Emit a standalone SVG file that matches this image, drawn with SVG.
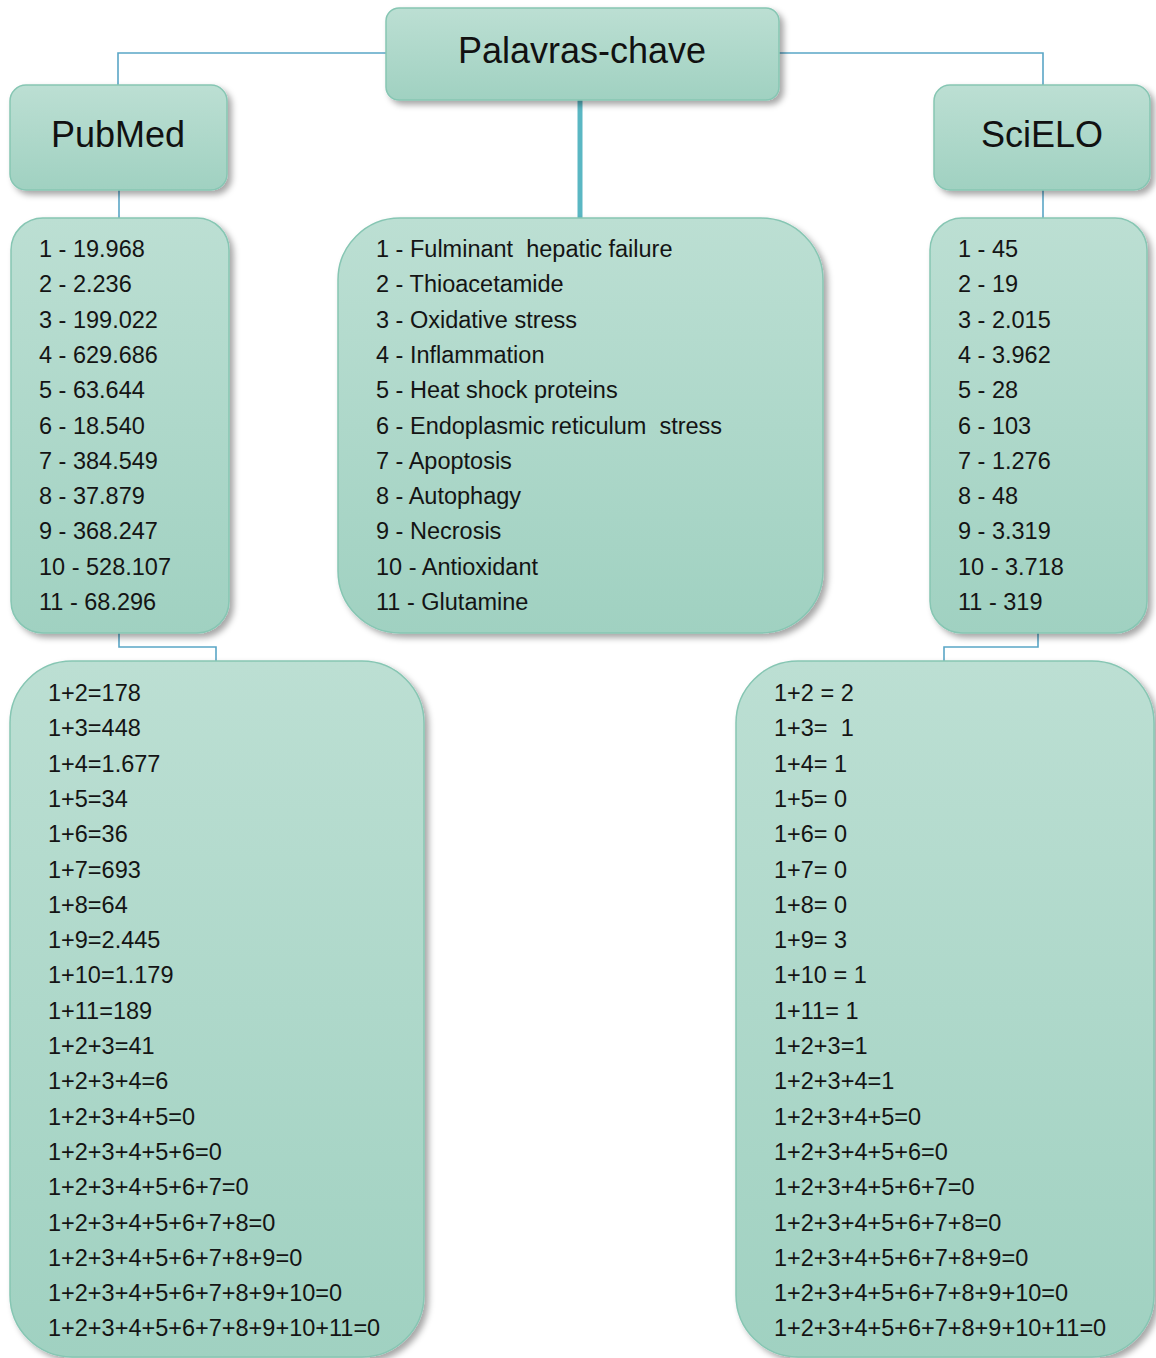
<svg xmlns="http://www.w3.org/2000/svg" width="1156" height="1358" viewBox="0 0 1156 1358">
<defs>
<linearGradient id="g" x1="0" y1="0" x2="0" y2="1">
<stop offset="0" stop-color="#bcdfd3"/>
<stop offset="1" stop-color="#a0d1c1"/>
</linearGradient>
<filter id="sh" x="-10%" y="-10%" width="125%" height="125%">
<feDropShadow dx="4" dy="4" stdDeviation="3" flood-color="#000" flood-opacity="0.35"/>
</filter>
<style>
.box{fill:url(#g);stroke:#86c6b3;stroke-width:1.5;filter:url(#sh)}
.t{font-family:"Liberation Sans",Arial,sans-serif;font-size:23.5px;fill:#141414;white-space:pre}
.h{font-family:"Liberation Sans",Arial,sans-serif;font-size:36px;fill:#111;text-anchor:middle}
.c{fill:none;stroke:#5aa6c6;stroke-width:1.6}
</style>
</defs>
<g id="connectors">
<polyline class="c" points="386,53 118,53 118,86"/>
<polyline class="c" points="779,53 1043,53 1043,86"/>
<line class="c" x1="119" y1="190" x2="119" y2="219"/>
<line class="c" x1="1043" y1="190" x2="1043" y2="219"/>
<line x1="580" y1="100" x2="580" y2="219" stroke="#5ab7c3" stroke-width="5"/>
<polyline class="c" points="119,632 119,647 216,647 216,662"/>
<polyline class="c" points="1038,632 1038,647 944,647 944,662"/>
</g>
<g id="palavras">
<rect class="box" x="386" y="8" width="393" height="92" rx="13"/>
<text class="h" x="582" y="63">Palavras-chave</text>
</g>
<g id="pubmed">
<rect class="box" x="10" y="85" width="217" height="105" rx="16"/>
<text class="h" x="118" y="147">PubMed</text>
</g>
<g id="scielo">
<rect class="box" x="934" y="85" width="216" height="105" rx="16"/>
<text class="h" x="1042" y="147">SciELO</text>
</g>
<g id="pubmed-list">
<rect class="box" x="11" y="218" width="218" height="415" rx="32"/>
<text class="t" x="39" y="257">1 - 19.968</text>
<text class="t" x="39" y="292.3">2 - 2.236</text>
<text class="t" x="39" y="327.6">3 - 199.022</text>
<text class="t" x="39" y="362.9">4 - 629.686</text>
<text class="t" x="39" y="398.2">5 - 63.644</text>
<text class="t" x="39" y="433.5">6 - 18.540</text>
<text class="t" x="39" y="468.8">7 - 384.549</text>
<text class="t" x="39" y="504.1">8 - 37.879</text>
<text class="t" x="39" y="539.4">9 - 368.247</text>
<text class="t" x="39" y="574.7">10 - 528.107</text>
<text class="t" x="39" y="610">11 - 68.296</text>
</g>
<g id="keywords">
<rect class="box" x="338" y="218" width="485" height="415" rx="62"/>
<text class="t" x="376" y="257">1 - Fulminant  hepatic failure</text>
<text class="t" x="376" y="292.3">2 - Thioacetamide</text>
<text class="t" x="376" y="327.6">3 - Oxidative stress</text>
<text class="t" x="376" y="362.9">4 - Inflammation</text>
<text class="t" x="376" y="398.2">5 - Heat shock proteins</text>
<text class="t" x="376" y="433.5">6 - Endoplasmic reticulum  stress</text>
<text class="t" x="376" y="468.8">7 - Apoptosis</text>
<text class="t" x="376" y="504.1">8 - Autophagy</text>
<text class="t" x="376" y="539.4">9 - Necrosis</text>
<text class="t" x="376" y="574.7">10 - Antioxidant</text>
<text class="t" x="376" y="610">11 - Glutamine</text>
</g>
<g id="scielo-list">
<rect class="box" x="930" y="218" width="217" height="415" rx="32"/>
<text class="t" x="958" y="257">1 - 45</text>
<text class="t" x="958" y="292.3">2 - 19</text>
<text class="t" x="958" y="327.6">3 - 2.015</text>
<text class="t" x="958" y="362.9">4 - 3.962</text>
<text class="t" x="958" y="398.2">5 - 28</text>
<text class="t" x="958" y="433.5">6 - 103</text>
<text class="t" x="958" y="468.8">7 - 1.276</text>
<text class="t" x="958" y="504.1">8 - 48</text>
<text class="t" x="958" y="539.4">9 - 3.319</text>
<text class="t" x="958" y="574.7">10 - 3.718</text>
<text class="t" x="958" y="610">11 - 319</text>
</g>
<g id="pubmed-combos">
<rect class="box" x="10" y="661" width="414" height="696" rx="62"/>
<text class="t" x="48" y="701">1+2=178</text>
<text class="t" x="48" y="736.3">1+3=448</text>
<text class="t" x="48" y="771.6">1+4=1.677</text>
<text class="t" x="48" y="806.9">1+5=34</text>
<text class="t" x="48" y="842.2">1+6=36</text>
<text class="t" x="48" y="877.5">1+7=693</text>
<text class="t" x="48" y="912.8">1+8=64</text>
<text class="t" x="48" y="948.1">1+9=2.445</text>
<text class="t" x="48" y="983.4">1+10=1.179</text>
<text class="t" x="48" y="1018.7">1+11=189</text>
<text class="t" x="48" y="1054">1+2+3=41</text>
<text class="t" x="48" y="1089.3">1+2+3+4=6</text>
<text class="t" x="48" y="1124.6">1+2+3+4+5=0</text>
<text class="t" x="48" y="1159.9">1+2+3+4+5+6=0</text>
<text class="t" x="48" y="1195.2">1+2+3+4+5+6+7=0</text>
<text class="t" x="48" y="1230.5">1+2+3+4+5+6+7+8=0</text>
<text class="t" x="48" y="1265.8">1+2+3+4+5+6+7+8+9=0</text>
<text class="t" x="48" y="1301.1">1+2+3+4+5+6+7+8+9+10=0</text>
<text class="t" x="48" y="1336.4">1+2+3+4+5+6+7+8+9+10+11=0</text>
</g>
<g id="scielo-combos">
<rect class="box" x="736" y="661" width="418" height="696" rx="62"/>
<text class="t" x="774" y="701">1+2 = 2</text>
<text class="t" x="774" y="736.3">1+3=  1</text>
<text class="t" x="774" y="771.6">1+4= 1</text>
<text class="t" x="774" y="806.9">1+5= 0</text>
<text class="t" x="774" y="842.2">1+6= 0</text>
<text class="t" x="774" y="877.5">1+7= 0</text>
<text class="t" x="774" y="912.8">1+8= 0</text>
<text class="t" x="774" y="948.1">1+9= 3</text>
<text class="t" x="774" y="983.4">1+10 = 1</text>
<text class="t" x="774" y="1018.7">1+11= 1</text>
<text class="t" x="774" y="1054">1+2+3=1</text>
<text class="t" x="774" y="1089.3">1+2+3+4=1</text>
<text class="t" x="774" y="1124.6">1+2+3+4+5=0</text>
<text class="t" x="774" y="1159.9">1+2+3+4+5+6=0</text>
<text class="t" x="774" y="1195.2">1+2+3+4+5+6+7=0</text>
<text class="t" x="774" y="1230.5">1+2+3+4+5+6+7+8=0</text>
<text class="t" x="774" y="1265.8">1+2+3+4+5+6+7+8+9=0</text>
<text class="t" x="774" y="1301.1">1+2+3+4+5+6+7+8+9+10=0</text>
<text class="t" x="774" y="1336.4">1+2+3+4+5+6+7+8+9+10+11=0</text>
</g>
</svg>
